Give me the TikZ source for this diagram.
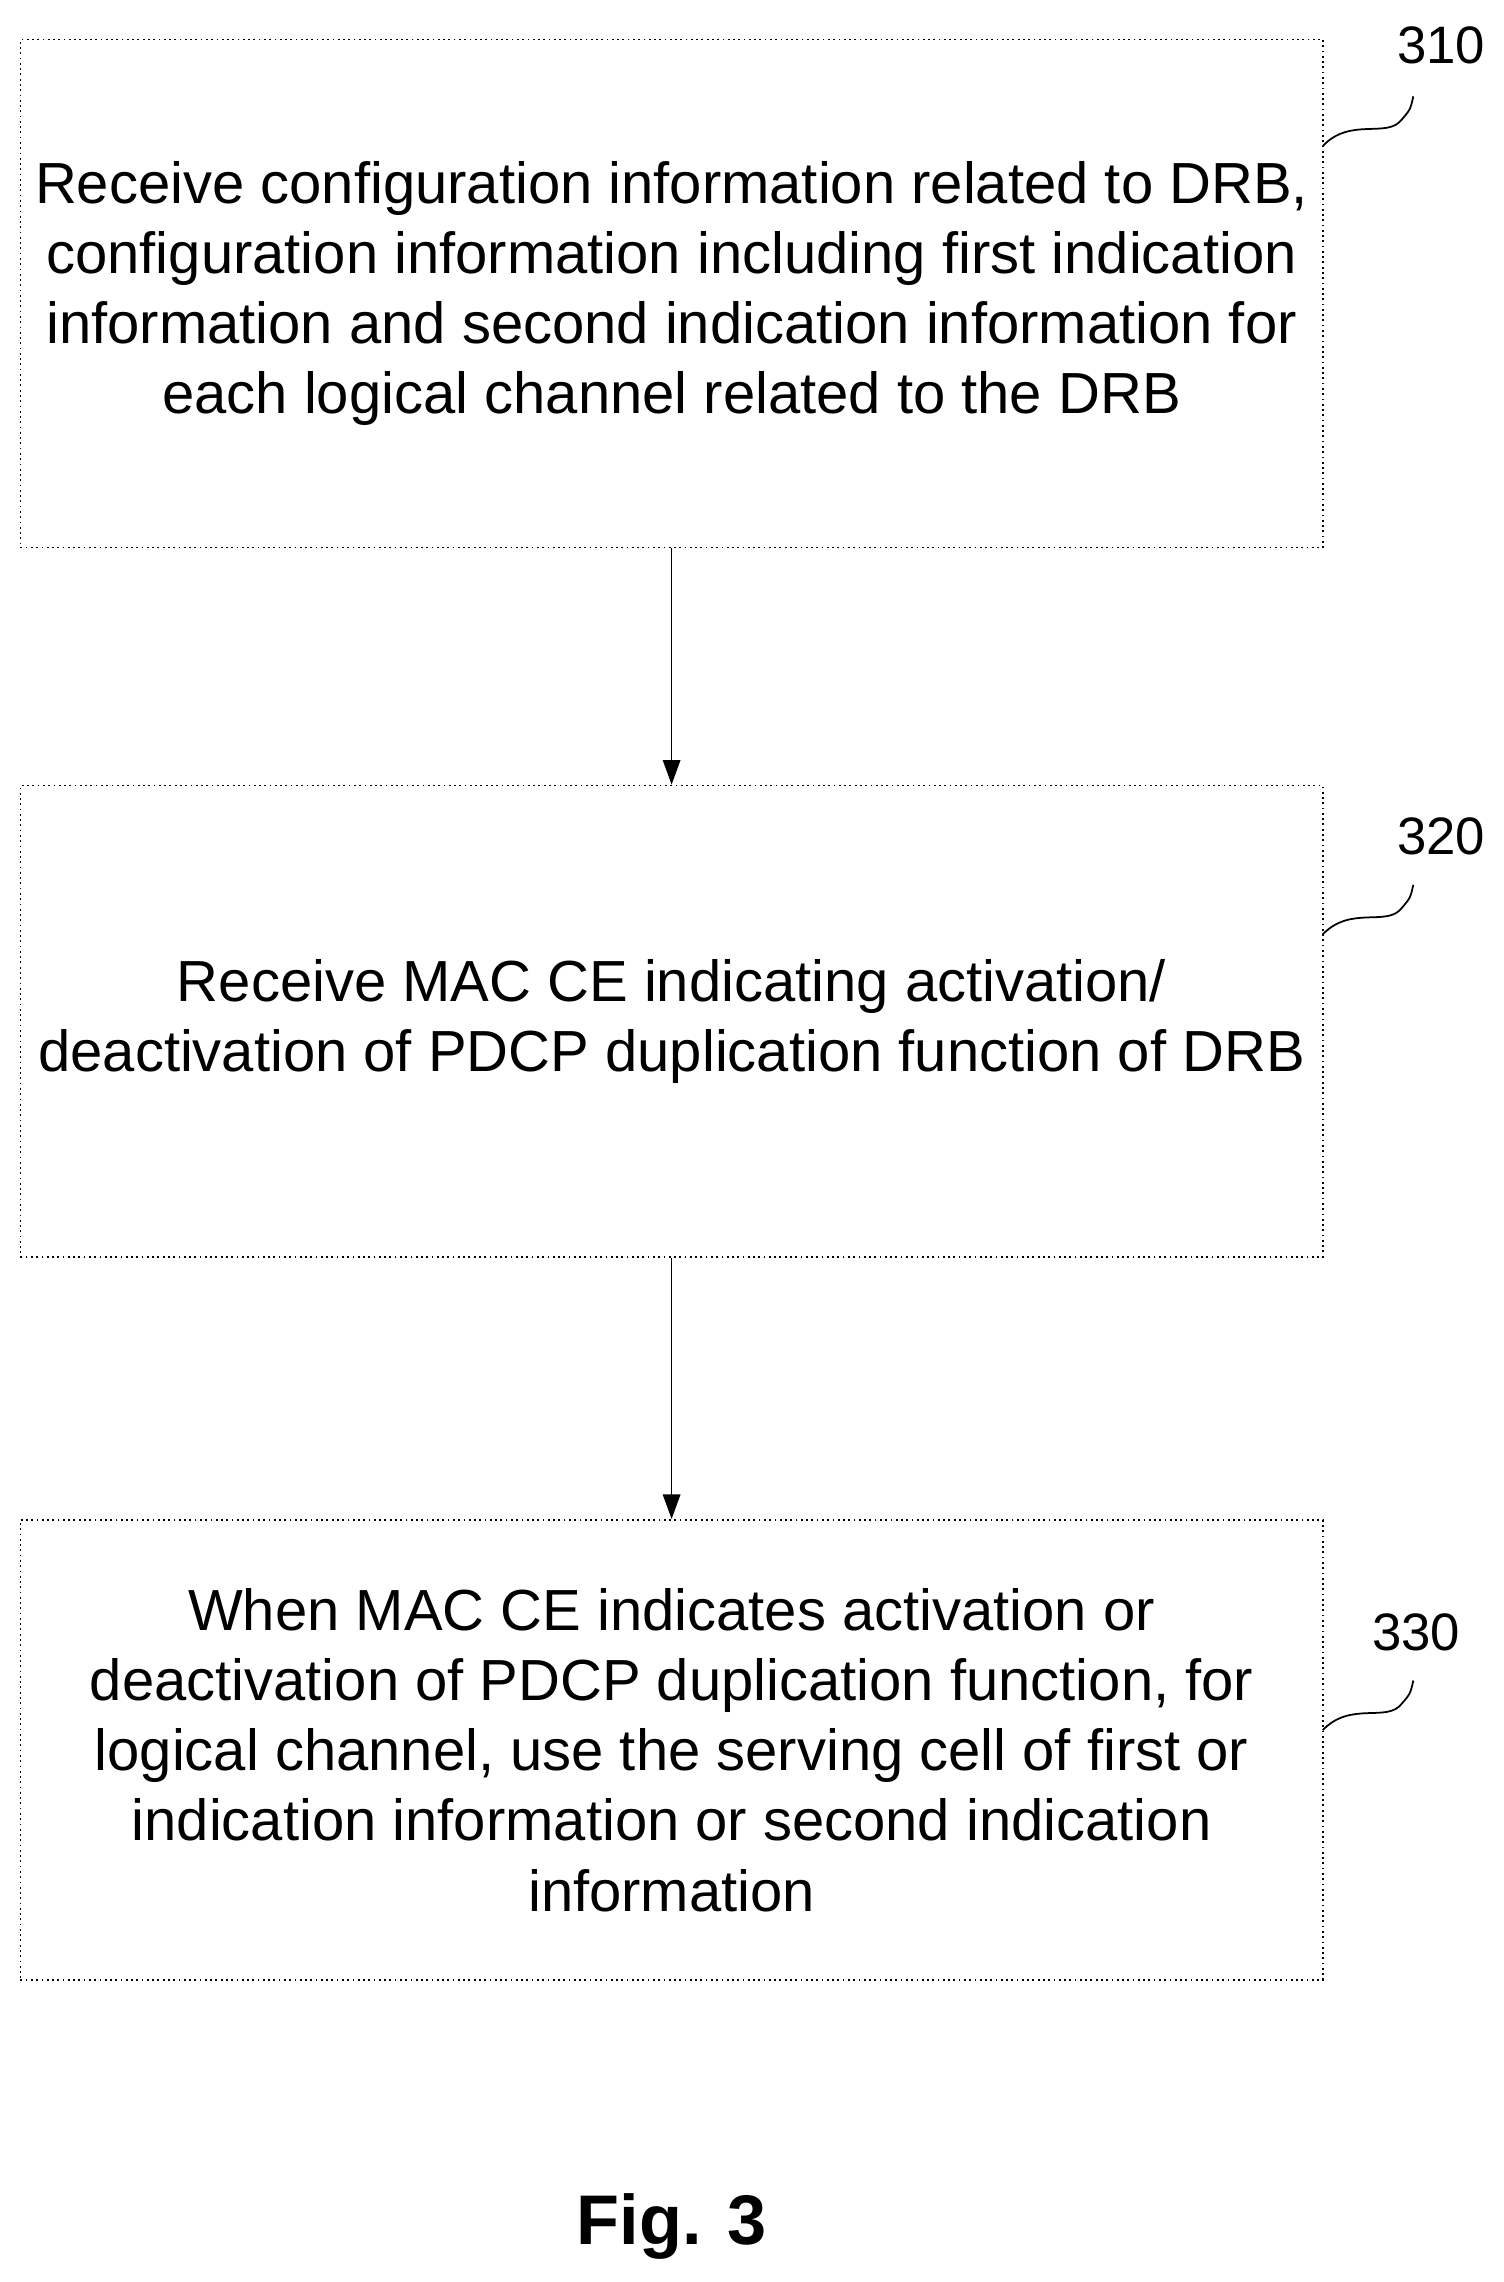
\documentclass[tikz,border=0pt]{standalone}
\usepackage{fontspec}
\setmainfont{Liberation Sans}
\usetikzlibrary{arrows.meta}
\begin{document}
\begin{tikzpicture}[x=0.0146cm, y=-0.0146cm,
    stepbox/.style={draw, densely dotted, line width=0.5pt, inner sep=0pt, minimum width=892*0.0146cm, align=center, font=\fontsize{16.5}{20}\selectfont},
    lbl/.style={font=\fontsize{15}{18}\selectfont},
    arrow/.style={-{Triangle[width=5pt,length=7pt]}, line width=0.4pt}
]
\useasboundingbox (0,0) rectangle (1030,1563);

% Steps
\node[stepbox, minimum height=348*0.0146cm] (s310) at (460,201) {Receive configuration information related to DRB,\\configuration information including first indication\\information and second indication information for\\each logical channel related to the DRB};
\node[stepbox, minimum height=323*0.0146cm] (s320) at (460,699.5) {Receive MAC CE indicating activation/\\deactivation of PDCP duplication function of DRB};
\node[stepbox, minimum height=315*0.0146cm] (s330) at (460,1198.5) {When MAC CE indicates activation or\\deactivation of PDCP duplication function, for\\logical channel, use the serving cell of first or\\indication information or second indication\\information};

\draw[arrow] (s310) -- (s320);
\draw[arrow] (s320) -- (s330);

% Labels
\node[lbl] (l310) at (987,31) {310};
\node[lbl] (l320) at (987,573) {320};
\node[lbl] (l330) at (970,1118) {330};
\draw[line width=0.5pt] (906,100) .. controls (925,80) and (950,95) .. (960,82) .. controls (966,75) .. (968,66);
\draw[line width=0.5pt] (906,640) .. controls (925,620) and (950,635) .. (960,622) .. controls (966,615) .. (968,606);
\draw[line width=0.5pt] (906,1185) .. controls (925,1165) and (950,1180) .. (960,1167) .. controls (966,1160) .. (968,1151);

\node[font=\fontsize{20}{24}\selectfont\bfseries] (fig) at (460,1525) {Fig. 3};
\end{tikzpicture}
\end{document}
